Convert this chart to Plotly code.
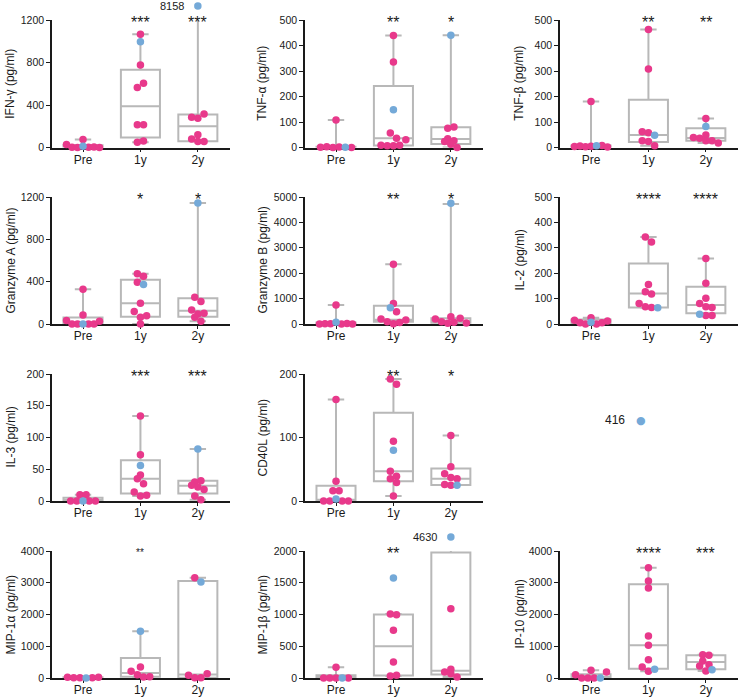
import numpy as np
import plotly.graph_objects as go

GROUPS = ["Pre", "1y", "2y"]
PINK = "#E8398B"
BLUE = "#74A9D8"
GRAY = "#B8B8B8"
FONT = "Liberation Sans, Arial, Helvetica, sans-serif"

# ---------------- data ----------------
titles = ["IFN-γ (pg/ml)", "TNF-α (pg/ml)", "TNF-β (pg/ml)",
          "Granzyme A (pg/ml)", "Granzyme B (pg/ml)", "IL-2 (pg/ml)",
          "IL-3 (pg/ml)", "CD40L (pg/ml)",
          "MIP-1α (pg/ml)", "MIP-1β (pg/ml)", "IP-10 (pg/ml)"]

# values per group (Pre, 1y, 2y); *_blue gives the index of the highlighted (blue) patient
ifng_vals = [[28, 3, 0, 12, 2, 75, 4, 1], [1065, 996, 777, 564, 605, 213, 213, 50, 60],
             [285, 276, 316, 8158, 81, 56, 56, 119]]
ifng_blue = [3, 1, 3]
tnfa_vals = [[1, 3, 0, 108, 2, 1, 0], [439, 335, 148, 57, 36, 9, 7, 7, 9, 30],
             [440, 75, 80, 34, 24, 26, 13, 0]]
tnfa_blue = [5, 2, 0]
tnfb_vals = [[4, 6, 3, 180, 5, 7, 8, 2], [463, 308, 62, 58, 48, 26, 24, 7],
             [114, 82, 39, 36, 49, 26, 26, 18]]
tnfb_blue = [5, 4, 1]
gzma_vals = [[32, 0, 0, 85, 0, 328, 0, 0, 25], [474, 452, 395, 373, 196, 117, 63, 79, 0],
             [1143, 253, 212, 133, 95, 101, 63, 25]]
gzma_blue = [4, 3, 0]
gzmb_vals = [[0, 10, 746, 5, 65, 0, 20, 0], [2356, 812, 641, 484, 196, 92, 10, 60, 157],
             [4750, 288, 196, 92, 26, 65, 222, 40]]
gzmb_blue = [4, 2, 0]
il2_vals = [[25, 15, 5, 0, 7, 0, 5, 12], [343, 323, 156, 127, 118, 81, 68, 65, 64],
            [258, 160, 101, 81, 68, 65, 38, 33, 33]]
il2_blue = [4, 8, 6]
il3_vals = [[10, 0, 0, 0, 0, 0, 10], [134, 73, 56, 41, 35, 27, 14, 8, 9],
            [82, 30, 32, 25, 22, 18, 8, 2]]
il3_blue = [3, 2, 0]
cd40l_vals = [[0, 0, 16, 31, 3, 160, 16, 0, 0], [192, 184, 94, 80, 47, 35, 39, 29, 8],
              [103, 54, 43, 37, 35, 26, 25, 25]]
cd40l_blue = [4, 3, 7]
mip1a_vals = [[20, 10, 5, 0, 8, 25], [1470, 347, 210, 105, 31, 40],
              [3160, 3024, 84, 10, 10, 137]]
mip1a_blue = [3, 0, 1]
mip1b_vals = [[0, 0, 168, 0, 0, 0], [1575, 1008, 997, 751, 252, 31, 42],
              [4630, 1092, 94, 136, 68, 16]]
mip1b_blue = [4, 0, 0]
ip10_vals = [[241, 105, 0, 0, 0, 0, 189], [3475, 3055, 2835, 1323, 1029, 578, 347, 210, 273],
             [735, 714, 535, 420, 378, 220, 262]]
ip10_blue = [5, 8, 6]

# box statistics per group: [min, q1, median, q3, max]
ifng_box = [[0, 1, 4, 20, 75], [50, 94, 388, 731, 1065], [56, 59, 200, 310, 8158]]
tnfa_box = [[0, 0, 1, 3, 108], [7, 8, 36, 241, 439], [0, 14, 33, 79, 440]]
tnfb_box = [[2, 3, 5, 8, 180], [7, 22, 49, 187, 463], [18, 26, 37, 75, 114]]
gzma_box = [[0, 0, 0, 62, 328], [0, 69, 196, 417, 474], [25, 69, 126, 243, 1143]]
gzmb_box = [[0, 2, 8, 60, 746], [10, 92, 170, 720, 2356], [26, 50, 110, 230, 4720]]
il2_box = [[0, 2, 6, 18, 25], [64, 65, 120, 238, 343], [33, 42, 75, 147, 258]]
il3_box = [[0, 0, 0, 5, 10], [8, 12, 35, 64, 134], [2, 12, 24, 32, 82]]
cd40l_box = [[0, 0, 2, 24, 160], [8, 31, 47, 139, 192], [25, 25, 35, 51, 103]]
mip1a_box = [[0, 4, 9, 21, 25], [31, 38, 157, 628, 1470], [10, 10, 110, 3057, 3160]]
mip1b_box = [[0, 0, 0, 42, 168], [31, 39, 501, 1000, 1008], [16, 55, 115, 1976, 4630]]
ip10_box = [[0, 0, 20, 120, 241], [210, 294, 1029, 2950, 3475], [220, 273, 504, 714, 735]]

# significance marks per group
ifng_stars = ["", "***", "***"]
tnfa_stars = ["", "**", "*"]
tnfb_stars = ["", "**", "**"]
gzma_stars = ["", "*", "*"]
gzmb_stars = ["", "**", "*"]
il2_stars = ["", "****", "****"]
il3_stars = ["", "***", "***"]
cd40l_stars = ["", "**", "*"]
mip1a_stars = ["", "**", ""]
mip1b_stars = ["", "**", ""]
ip10_stars = ["", "****", "***"]

# y tick values
ifng_ticks = [0, 400, 800, 1200]
tnfa_ticks = [0, 100, 200, 300, 400, 500]
tnfb_ticks = [0, 100, 200, 300, 400, 500]
gzma_ticks = [0, 400, 800, 1200]
gzmb_ticks = [0, 1000, 2000, 3000, 4000, 5000]
il2_ticks = [0, 100, 200, 300, 400, 500]
il3_ticks = [0, 50, 100, 150, 200]
cd40l_ticks = [0, 100, 200]
mip1a_ticks = [0, 1000, 2000, 3000, 4000]
mip1b_ticks = [0, 500, 1000, 1500, 2000]
ip10_ticks = [0, 1000, 2000, 3000, 4000]

# stray off-scale label in the empty cell
stray_label = "416"

panels = [
    (ifng_vals, ifng_blue, ifng_box, ifng_stars, ifng_ticks),
    (tnfa_vals, tnfa_blue, tnfa_box, tnfa_stars, tnfa_ticks),
    (tnfb_vals, tnfb_blue, tnfb_box, tnfb_stars, tnfb_ticks),
    (gzma_vals, gzma_blue, gzma_box, gzma_stars, gzma_ticks),
    (gzmb_vals, gzmb_blue, gzmb_box, gzmb_stars, gzmb_ticks),
    (il2_vals, il2_blue, il2_box, il2_stars, il2_ticks),
    (il3_vals, il3_blue, il3_box, il3_stars, il3_ticks),
    (cd40l_vals, cd40l_blue, cd40l_box, cd40l_stars, cd40l_ticks),
    (mip1a_vals, mip1a_blue, mip1a_box, mip1a_stars, mip1a_ticks),
    (mip1b_vals, mip1b_blue, mip1b_box, mip1b_stars, mip1b_ticks),
    (ip10_vals, ip10_blue, ip10_box, ip10_stars, ip10_ticks),
]

# ---------------- layout geometry (window pixels) ----------------
W, H = 738, 698


def fx(px):
    return min(max(px / W, 0.0), 1.0)


def fy(py):
    return min(max(1 - py / H, 0.0), 1.0)


cols = [(52, 230), (305, 483), (560, 738)]
rows = [(20, 147.5), (197, 324), (374, 501), (551, 678)]
cells = [(0, 0), (0, 1), (0, 2), (1, 0), (1, 1), (1, 2), (2, 0), (2, 1), (3, 0), (3, 1), (3, 2)]
title_x = [10, 262, 519]
XR = [-0.54, 2.56]
OFF_SCALE = 1.11
EXTRA = 16  # px of head-room above each panel for off-scale points
DOT = 7.5


def swarm(ypx, d=6.2, maxw=33.0):
    """Prism-like column scatter: bin points into rows, centre each row."""
    n = len(ypx)
    xs = np.zeros(n)
    order = np.argsort(ypx, kind="stable")
    row_list, cur, start = [], [], None
    for i in order:
        if cur and ypx[i] - start >= d:
            row_list.append(cur)
            cur = []
        if not cur:
            start = ypx[i]
        cur.append(i)
    if cur:
        row_list.append(cur)
    for rw in row_list:
        rw = sorted(rw)
        k = len(rw)
        s = d if k < 2 else min(d, maxw / (k - 1))
        for j, i in enumerate(rw):
            xs[i] = (j - (k - 1) / 2) * s
    return xs


fig = go.Figure()
annotations = []
layout_axes = {}

for p, (vals, blue, box, stars, ticks) in enumerate(panels):
    r, c = cells[p]
    x0, x1 = cols[c]
    yt, yb = rows[r]
    ymax = ticks[-1]
    sfx = "" if p == 0 else str(p + 1)
    xa, ya, yo = "x" + sfx, "y" + sfx, "y" + str(p + 12)
    px_per_x = (x1 - x0) / (XR[1] - XR[0])
    px_per_y = (yb - yt) / ymax

    layout_axes["xaxis" + sfx] = dict(
        domain=[fx(x0), fx(x1)], range=XR, anchor=ya,
        tickvals=[0, 1, 2], ticktext=GROUPS,
        ticks="outside", ticklen=3, tickwidth=1.4, tickcolor="#1a1a1a",
        ticklabelstandoff=-3,
        showline=True, linecolor="#1a1a1a", linewidth=1.6,
        showgrid=False, zeroline=False,
        tickfont=dict(family=FONT, size=12, color="#1a1a1a"), fixedrange=True)
    layout_axes["yaxis" + sfx] = dict(
        domain=[fy(yb), fy(yt)], range=[0, ymax], anchor=xa,
        tickvals=ticks, ticktext=[str(t) for t in ticks],
        ticks="outside", ticklen=4, tickwidth=1.4, tickcolor="#1a1a1a",
        showline=True, linecolor="#1a1a1a", linewidth=1.6,
        showgrid=False, zeroline=False,
        tickfont=dict(family=FONT, size=10.5, color="#1a1a1a"), fixedrange=True)
    # same scale, with head-room on top, for the dots (so off-scale values stay visible)
    top = max(yt - EXTRA, 0)
    layout_axes["yaxis" + str(p + 12)] = dict(
        domain=[fy(yb), fy(top)],
        range=[0, ymax * (yb - top) / (yb - yt)], anchor=xa, visible=False,
        showgrid=False, zeroline=False, fixedrange=True)

    # boxes (min-to-max whiskers)
    fig.add_trace(go.Box(
        x=[0, 1, 2], lowerfence=[b[0] for b in box], q1=[b[1] for b in box],
        median=[b[2] for b in box], q3=[b[3] for b in box],
        upperfence=[b[4] for b in box],
        xaxis=xa, yaxis=ya, boxpoints=False, width=0.68, whiskerwidth=0.42,
        line=dict(color=GRAY, width=2), fillcolor="rgba(0,0,0,0)",
        hoverinfo="skip", showlegend=False))

    px_pink, py_pink, px_blue, py_blue = [], [], [], []
    for g, gv in enumerate(vals):
        gv = np.asarray(gv, dtype=float)
        disp = np.where(gv > ymax, ymax * OFF_SCALE, gv)
        offs = swarm(disp * px_per_y) / px_per_x
        for j in range(len(gv)):
            if j == blue[g]:
                px_blue.append(g + offs[j]); py_blue.append(disp[j])
            else:
                px_pink.append(g + offs[j]); py_pink.append(disp[j])
            if gv[j] > ymax:
                annotations.append(dict(
                    x=g + offs[j], y=disp[j], xref=xa, yref=yo, text=str(int(gv[j])),
                    showarrow=False, xanchor="right", yanchor="middle", xshift=-12,
                    font=dict(family=FONT, size=11, color="#1a1a1a")))
        if stars[g]:
            small = p == 8
            annotations.append(dict(
                x=g, y=ymax, xref=xa, yref=ya, text=stars[g], showarrow=False,
                xanchor="center", yanchor="middle", yshift=-1 if small else -2,
                font=dict(family=FONT, size=10 if small else 16, color="#1a1a1a")))

    fig.add_trace(go.Scatter(x=px_pink, y=py_pink, xaxis=xa, yaxis=yo, mode="markers",
                             marker=dict(color=PINK, size=DOT), cliponaxis=False,
                             hoverinfo="skip", showlegend=False))
    fig.add_trace(go.Scatter(x=px_blue, y=py_blue, xaxis=xa, yaxis=yo, mode="markers",
                             marker=dict(color=BLUE, size=DOT), cliponaxis=False,
                             hoverinfo="skip", showlegend=False))

    annotations.append(dict(
        x=fx(title_x[c]), y=fy((yt + yb) / 2), xref="paper", yref="paper",
        text=titles[p], textangle=-90, showarrow=False, xanchor="center", yanchor="middle",
        font=dict(family=FONT, size=12, color="#1a1a1a")))

# stray off-scale label with its dot in the empty cell
annotations.append(dict(x=fx(627), y=fy(420), xref="paper", yref="paper", text=stray_label,
                        showarrow=False, xanchor="right", yanchor="middle",
                        font=dict(family=FONT, size=12, color="#1a1a1a")))
annotations.append(dict(x=fx(641), y=fy(420), xref="paper", yref="paper", text="●",
                        showarrow=False, xanchor="center", yanchor="middle",
                        font=dict(family="DejaVu Sans", size=11, color=BLUE)))

fig.update_layout(width=W, height=H,
                  margin=dict(l=0, r=0, t=0, b=0, pad=0, autoexpand=False),
                  paper_bgcolor="white", plot_bgcolor="rgba(0,0,0,0)", showlegend=False,
                  annotations=annotations, **layout_axes)
fig.write_html("out.html", config={"displayModeBar": False},
               post_script="document.body.style.margin='0px';"
                           "document.body.style.overflow='hidden';")
